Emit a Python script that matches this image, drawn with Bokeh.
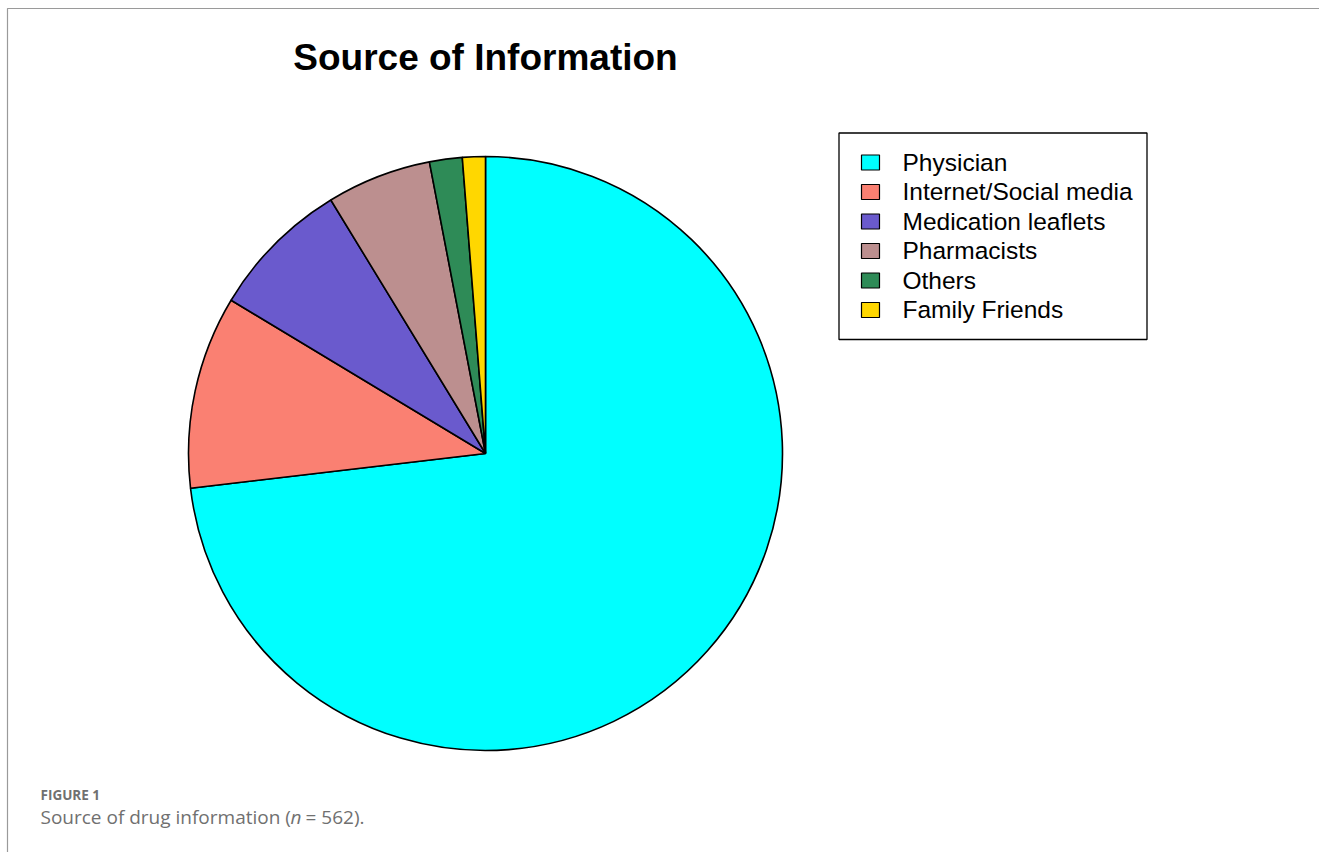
from bokeh.plotting import figure
from bokeh.models import Range1d
from bokeh.core.properties import value
from bokeh.embed import file_html
from bokeh.resources import INLINE
import numpy as np

# ---- data ----
categories = ["Physician", "Internet/Social media", "Medication leaflets",
              "Pharmacists", "Others", "Family Friends"]
counts = [411, 59, 43, 32, 10, 7]
colors = ["#00FFFF", "#FA8072", "#6A5ACD", "#BC8F8F", "#2E8B57", "#FFD700"]
title_text = "Source of Information"
fig_label = "FIGURE 1"
caption_parts = ["Source of drug information (", "n", "= 562)."]

W, H = 1319, 852
p = figure(width=W, height=H, output_backend="svg", toolbar_location=None,
           x_range=Range1d(0, W), y_range=Range1d(0, H), min_border=0)
p.axis.visible = False
p.grid.visible = False
p.outline_line_color = None
p.background_fill_color = "white"
p.border_fill_color = "white"

def Y(sy, size=0.0):
    # screen baseline -> data y, compensating the SVG baseline offset
    return H - (sy - 0.4 * size)

# panel frame lines
p.line([7, 7, W], [0, H - 8, H - 8], line_color="#9a9a9a", line_width=1.2)

# ---- pie (clockwise from 12 o'clock) ----
vals = np.array(counts, dtype=float)
frac = vals / vals.sum()
cum = np.concatenate([[0], np.cumsum(frac)])
start_cw = np.pi / 2 - cum[:-1] * 2 * np.pi
end_cw = np.pi / 2 - cum[1:] * 2 * np.pi
cx, cy, r = 485, H - 453, 297
p.wedge(x=cx, y=cy, radius=r, start_angle=list(end_cw), end_angle=list(start_cw),
        fill_color=colors, line_color="black", line_width=1.6)

# ---- title ----
p.text(x=[485], y=[Y(72, 37)], text=[title_text], text_font=value("Liberation Sans"),
       text_font_style="bold", text_font_size="37px", text_align="center",
       text_baseline="alphabetic", text_color="black")

# ---- legend ----
bx0, by0, bx1, by1 = 838.5, 132.5, 1146.5, 339
p.quad(left=bx0, right=bx1, top=H - by0, bottom=H - by1, fill_color="white",
       line_color="black", line_width=1.3)
row0, dy = 171.5, 29.5
fs = 24.5
p.rect(x=870, y=[H - (row0 - 9.5 + i * dy) for i in range(len(categories))],
       width=18, height=15, fill_color=colors, line_color="black", line_width=1.2)
p.text(x=902, y=[Y(row0 + i * dy, fs) for i in range(len(categories))],
       text=categories, text_font=value("Liberation Sans"),
       text_font_size=f"{fs}px", text_baseline="alphabetic", text_color="black")

# ---- caption ----
p.text(x=[40], y=[Y(799.5, 13.5)], text=[fig_label], text_font=value("Open Sans"),
       text_font_style="bold", text_font_size="13.5px", text_color="#707070",
       text_baseline="alphabetic")
cs = 19
p.text(x=[40], y=[Y(824.5, cs)], text=[caption_parts[0]], text_font=value("Open Sans"),
       text_font_size=f"{cs}px", text_color="#707070", text_baseline="alphabetic")
p.text(x=[290], y=[Y(824.5, cs)], text=[caption_parts[1]], text_font=value("Open Sans"),
       text_font_style="italic", text_font_size=f"{cs}px", text_color="#707070",
       text_baseline="alphabetic")
p.text(x=[305], y=[Y(824.5, cs)], text=[caption_parts[2]], text_font=value("Open Sans"),
       text_font_size=f"{cs}px", text_color="#707070", text_baseline="alphabetic")

open("out.html", "w").write(file_html(p, INLINE))
